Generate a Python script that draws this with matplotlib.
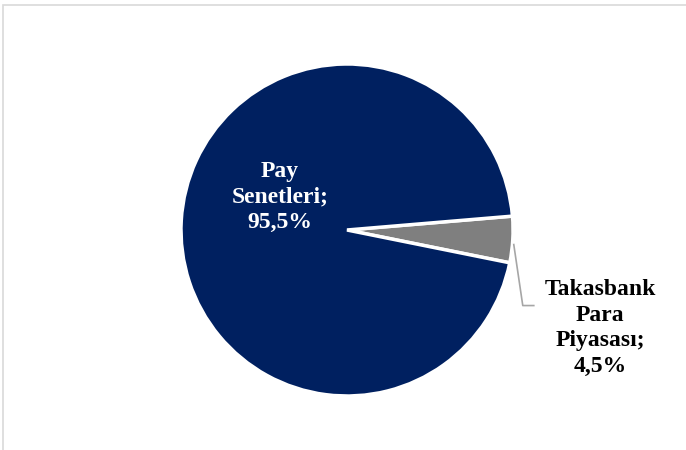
import matplotlib.pyplot as plt
from matplotlib.patches import Rectangle
import numpy as np

### data
labels = ['Takasbank\nPara\nPiyasası;\n4,5%', 'Pay\nSenetleri;\n95,5%']
values = [4.5, 95.5]
colors = ['#7f7f7f', '#002060']
explode = [0.05, 0]

plt.rcParams['font.family'] = ['Liberation Serif', 'DejaVu Serif']

fig = plt.figure(figsize=(6.86, 4.5), dpi=100)
# light gray chart border (cut at right/bottom like the original)
fig.patches.append(Rectangle((3, -20), 700, 465, transform=None, fill=False,
                             edgecolor='#d9d9d9', linewidth=1.2))

ax = fig.add_axes([0, 0, 1, 1])

cx, cy, r = 347, 220, 166
wedges, _ = ax.pie(values, colors=colors, explode=explode, startangle=-11.4,
                   center=(cx, cy), radius=r,
                   wedgeprops=dict(edgecolor='white', linewidth=2.5))
ax.set_xlim(0, 686)
ax.set_ylim(0, 450)
ax.set_aspect('equal')
ax.axis('off')

# label inside the big slice
ax.text(cx - 67, cy + 33, labels[1], ha='center', va='center', color='white',
        fontsize=17, fontweight='bold', linespacing=1.3)

# label of the small slice with leader line
w = wedges[0]
mid = np.deg2rad((w.theta1 + w.theta2) / 2)
ox, oy = w.center
p0 = (ox + w.r * np.cos(mid) + 1, oy + w.r * np.sin(mid) - 5)
ax.plot([p0[0], p0[0] + 9, p0[0] + 20], [p0[1], p0[1] - 61, p0[1] - 61],
        color='#a6a6a6', linewidth=1.2)
ax.text(600, 450 - 328, labels[0], ha='center', va='center', color='black',
        fontsize=17, fontweight='bold', linespacing=1.3)

plt.savefig('out.png', dpi=100)
